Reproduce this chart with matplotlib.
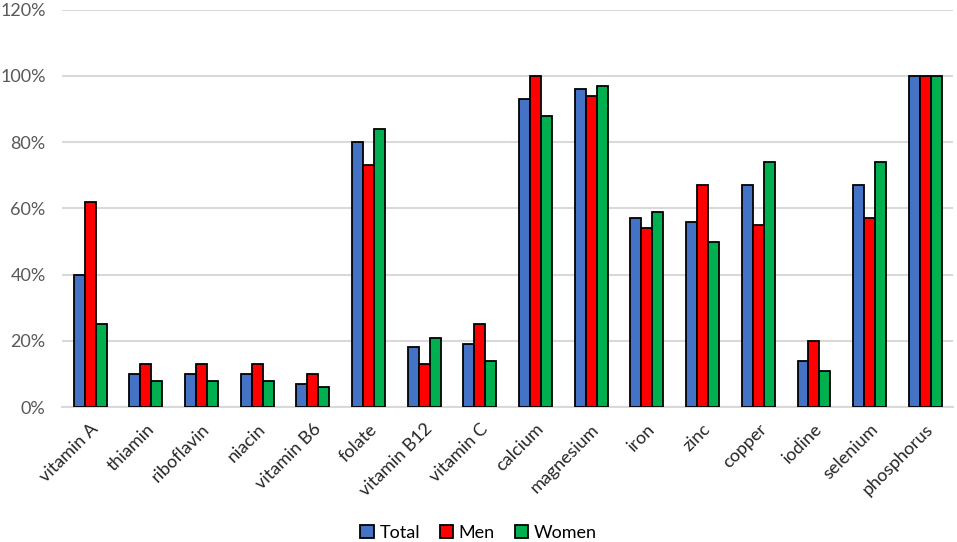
import numpy as np
import matplotlib.pyplot as plt
from matplotlib.ticker import FuncFormatter

# nutrient categories
nutrients = ['vitamin A', 'thiamin', 'riboflavin', 'niacin', 'vitamin B6', 'folate',
             'vitamin B12', 'vitamin C', 'calcium', 'magnesium', 'iron', 'zinc',
             'copper', 'iodine', 'selenium', 'phosphorus']

# values (%)
total = [40, 10, 10, 10, 7, 80, 18, 19, 93, 96, 57, 56, 67, 14, 67, 100]
men = [62, 13, 13, 13, 10, 73, 13, 25, 100, 94, 54, 67, 55, 20, 57, 100]
women = [25, 8, 8, 8, 6, 84, 21, 14, 88, 97, 59, 50, 74, 11, 74, 100]

series_names = ['Total', 'Men', 'Women']
colors = ['#4472C4', '#FF0000', '#00B050']

plt.rcParams['font.family'] = ['Lato', 'DejaVu Sans']

fig = plt.figure(figsize=(9.57, 5.42), dpi=100)
ax = fig.add_axes([0.065, 0.249, 0.931, 0.733])

x = np.arange(len(nutrients))
w = 0.197
for i, (vals, name, c) in enumerate(zip([total, men, women], series_names, colors)):
    ax.bar(x + (i - 1) * w, vals, width=w, color=c, edgecolor='black',
           linewidth=1.3, label=name, zorder=3)

ax.set_xlim(-0.5, len(nutrients) - 0.5)
ax.set_ylim(0, 120)
ax.set_yticks(np.arange(0, 121, 20))
ax.yaxis.set_major_formatter(FuncFormatter(lambda v, p: f'{int(v)}%'))
ax.grid(axis='y', color='#D9D9D9', linewidth=1.5, zorder=0)

ax.set_xticks(x)
ax.set_xticklabels(nutrients, rotation=45, ha='right', rotation_mode='anchor')
ax.tick_params(axis='both', length=0, labelsize=13, colors='#262626')
ax.tick_params(axis='y', labelcolor='#595959', pad=12)
ax.tick_params(axis='x', pad=10)

for s in ['top', 'right', 'left']:
    ax.spines[s].set_visible(False)
ax.spines['bottom'].set_color('#D9D9D9')
ax.spines['bottom'].set_linewidth(1.5)

fig.legend(loc='lower center', bbox_to_anchor=(0.5, -0.028), ncol=3, frameon=False,
           fontsize=13, handlelength=0.75, handleheight=0.75, handletextpad=0.3,
           columnspacing=1.1)

fig.savefig('out.png', dpi=100)
